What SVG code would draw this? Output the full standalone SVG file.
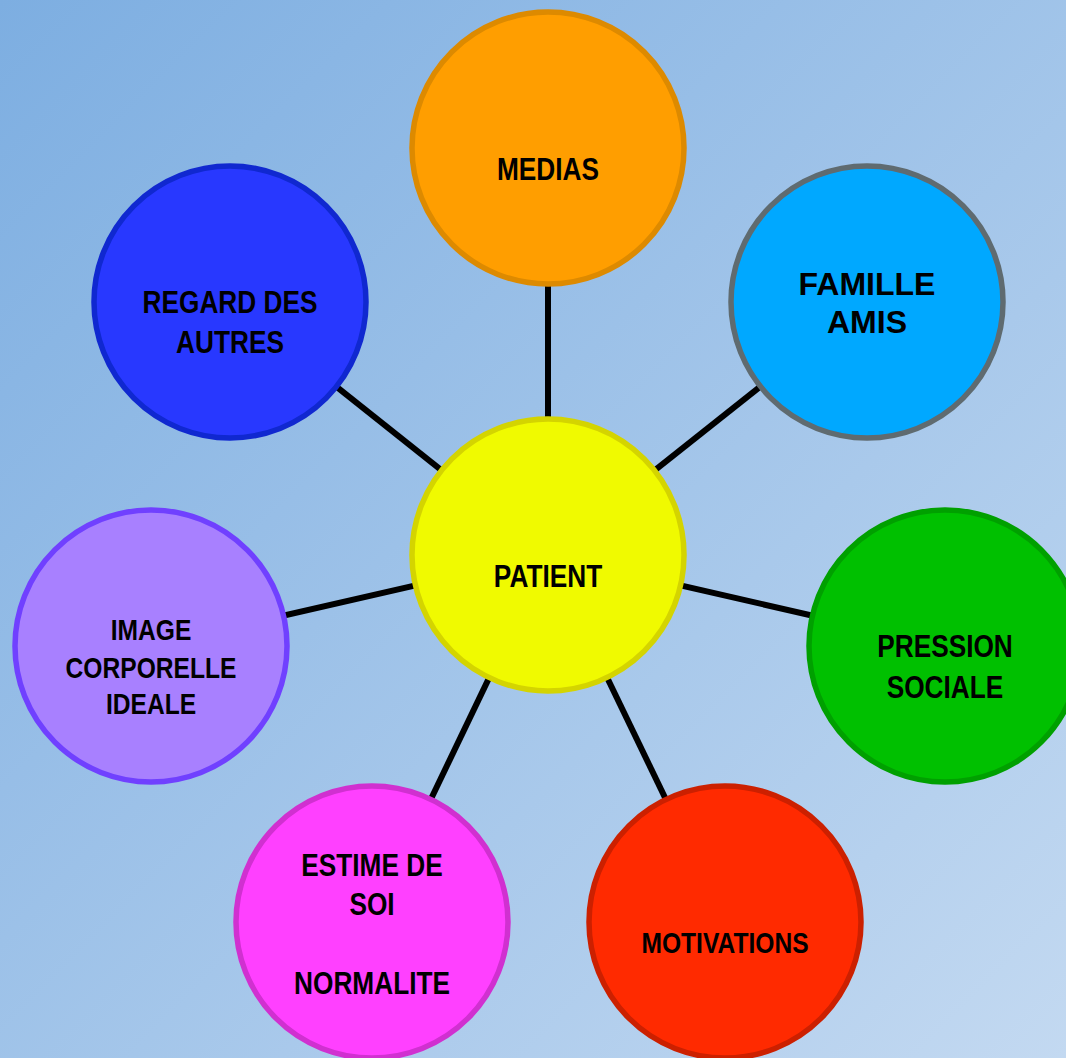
<svg xmlns="http://www.w3.org/2000/svg" width="1066" height="1058" viewBox="0 0 1066 1058">
  <defs>
    <linearGradient id="bg" x1="0" y1="0" x2="1066" y2="1058" gradientUnits="userSpaceOnUse">
      <stop offset="0" stop-color="#7daee1"/>
      <stop offset="1" stop-color="#c3d9f1"/>
    </linearGradient>
  </defs>
  <style>
    .n { stroke-width: 5.5; }
    .t { font-family: "Liberation Sans", Arial, sans-serif; font-weight: bold; fill: #000; text-anchor: middle; }
    .c { stroke: #000; stroke-width: 6; fill: none; }
  </style>
  <rect x="0" y="0" width="1066" height="1058" fill="url(#bg)"/>
  <g id="connectors">
    <line class="c" x1="548" y1="555" x2="548" y2="148"/>
    <line class="c" x1="548" y1="555" x2="867" y2="302"/>
    <line class="c" x1="548" y1="555" x2="230" y2="302"/>
    <line class="c" x1="548" y1="555" x2="151" y2="646"/>
    <line class="c" x1="548" y1="555" x2="945" y2="646"/>
    <line class="c" x1="548" y1="555" x2="372" y2="922"/>
    <line class="c" x1="548" y1="555" x2="725" y2="922"/>
  </g>
  <g id="medias">
    <circle class="n" cx="548" cy="148" r="136" fill="#ff9e00" stroke="#dd8a00"/>
    <text class="t" font-size="32" transform="translate(548,180) scale(0.82,1)">MEDIAS</text>
  </g>
  <g id="famille-amis">
    <circle class="n" cx="867" cy="302" r="136" fill="#00a8ff" stroke="#5f6b70"/>
    <text class="t" font-size="32" x="867" y="295">FAMILLE</text>
    <text class="t" font-size="32" x="867" y="333">AMIS</text>
  </g>
  <g id="regard-des-autres">
    <circle class="n" cx="230" cy="302" r="136" fill="#2838ff" stroke="#1028d0"/>
    <text class="t" font-size="32" transform="translate(230,313) scale(0.82,1)"><tspan x="0" y="0">REGARD DES</tspan><tspan x="0" y="40">AUTRES</tspan></text>
  </g>
  <g id="patient">
    <circle class="n" cx="548" cy="555" r="136" fill="#f0fa00" stroke="#d4d400"/>
    <text class="t" font-size="32" transform="translate(548,587) scale(0.82,1)">PATIENT</text>
  </g>
  <g id="image-corporelle">
    <circle class="n" cx="151" cy="646" r="136" fill="#a880ff" stroke="#7040ff"/>
    <text class="t" font-size="30" transform="translate(151,640) scale(0.82,1)"><tspan x="0" y="0">IMAGE</tspan><tspan x="0" y="38">CORPORELLE</tspan><tspan x="0" y="74">IDEALE</tspan></text>
  </g>
  <g id="pression-sociale">
    <circle class="n" cx="945" cy="646" r="136" fill="#00c000" stroke="#00a000"/>
    <text class="t" font-size="32" transform="translate(945,657) scale(0.82,1)"><tspan x="0" y="0">PRESSION</tspan><tspan x="0" y="41">SOCIALE</tspan></text>
  </g>
  <g id="estime-de-soi">
    <circle class="n" cx="372" cy="922" r="136" fill="#ff40ff" stroke="#d030d0"/>
    <text class="t" font-size="32" transform="translate(372,876) scale(0.82,1)"><tspan x="0" y="0">ESTIME DE</tspan><tspan x="0" y="39">SOI</tspan><tspan x="0" y="118">NORMALITE</tspan></text>
  </g>
  <g id="motivations">
    <circle class="n" cx="725" cy="922" r="136" fill="#ff2a00" stroke="#cc2000"/>
    <text class="t" font-size="30" transform="translate(725,953) scale(0.82,1)">MOTIVATIONS</text>
  </g>
</svg>
